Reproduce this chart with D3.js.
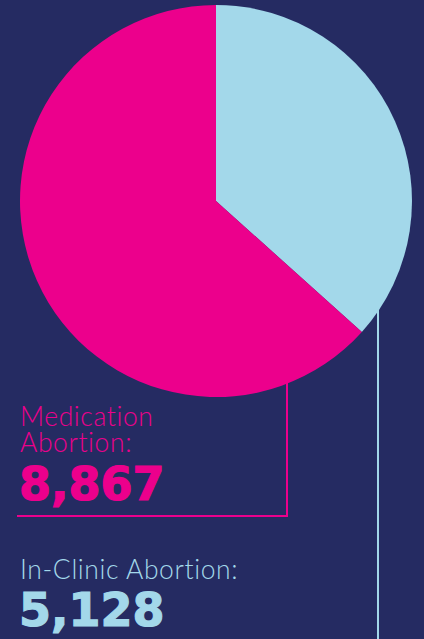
<!DOCTYPE html>
<html>
<head>
<meta charset="utf-8">
<script src="https://cdn.jsdelivr.net/npm/d3@7"></script>
<style>
  html, body { margin: 0; padding: 0; background: #252b62; }
  svg { display: block; }
</style>
</head>
<body>
<div id="chart"></div>
<script>
const categories = ['In-Clinic Abortion', 'Medication Abortion'];
const values = [5128, 8867];
const labelLines = [['In-Clinic Abortion:'], ['Medication', 'Abortion:']];
const colors = ['#a3d8ea', '#ec008c'];

const width = 424, height = 639;
const cx = 216, cy = 201, r = 196;

const svg = d3.select('#chart').append('svg')
  .attr('width', width).attr('height', height);

svg.append('rect').attr('width', width).attr('height', height).attr('fill', '#252b62');

const pie = d3.pie().sort(null).value(d => d.value);
const arcs = pie(categories.map((c, i) => ({ name: c, value: values[i], i })));
const arc = d3.arc().innerRadius(0).outerRadius(r);

const g = svg.append('g').attr('transform', `translate(${cx},${cy})`);
g.selectAll('path').data(arcs).enter().append('path')
  .attr('d', arc)
  .attr('fill', d => colors[d.data.i]);

// leader lines
function edgeY(x) { return cy + Math.sqrt(r * r - (x - cx) * (x - cx)); }

// medication (pink)
const px = 287;
svg.append('path')
  .attr('d', `M${px},${edgeY(px) - 4} V516 H17`)
  .attr('fill', 'none').attr('stroke', colors[1]).attr('stroke-width', 2);

// in-clinic (blue)
const bx = 378;
svg.append('path')
  .attr('d', `M${bx},${edgeY(bx) - 4} V${height}`)
  .attr('fill', 'none').attr('stroke', colors[0]).attr('stroke-width', 2);

const fmt = d3.format(',');

function label(lines, y0, color) {
  lines.forEach((t, j) => {
    svg.append('text').attr('x', 20).attr('y', y0 + j * 26)
      .attr('fill', color).attr('font-family', 'Lato, sans-serif')
      .attr('font-weight', 300).attr('font-size', 26.5)
      .attr('letter-spacing', 0.6).text(t);
  });
}
function number(v, y, color) {
  svg.append('text').attr('x', 19).attr('y', y)
    .attr('fill', color).attr('stroke', color).attr('stroke-width', 1.2)
    .attr('font-family', '"DejaVu Sans", sans-serif')
    .attr('font-weight', 700).attr('font-size', 46)
    .text(fmt(v));
}

label(labelLines[1], 426, colors[1]);
number(values[1], 500, colors[1]);
label(labelLines[0], 579, colors[0]);
number(values[0], 626, colors[0]);
</script>
</body>
</html>
